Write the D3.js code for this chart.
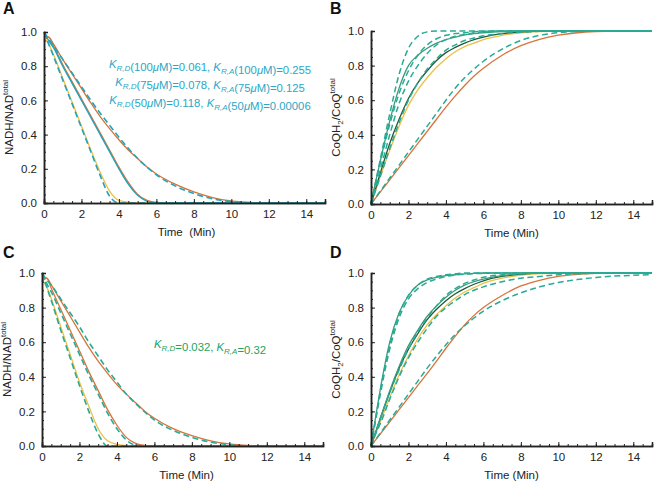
<!DOCTYPE html>
<html><head><meta charset="utf-8">
<script src="https://cdn.jsdelivr.net/npm/d3@7"></script>
<style>body{margin:0;background:#fff}svg{display:block;font-family:"Liberation Sans",Arial,sans-serif}</style>
</head><body><svg id="c" width="655" height="485"></svg>
<script>
// time grid (min)
const tGrid = [0,0.25,0.5,1,1.5,2,2.5,3,3.5,4,4.5,5,5.5,6,7,8,9,10,11,12,13,14,15];
const xTicks = [0,2,4,6,8,10,12,14];
const yTicks = [0,0.2,0.4,0.6,0.8,1.0];

// Panel A (NADH/NAD total)
const A_fastSolid = [0.97,0.93,0.87,0.73,0.59,0.45,0.31,0.18,0.07,0.015,0.004,0.001,0,0,0,0,0,0,0,0,0,0,0];
const A_fastDash  = [1.0,0.93,0.86,0.72,0.58,0.44,0.30,0.16,0.04,0,0,0,0,0,0,0,0,0,0,0,0,0,0];
const A_midSolid  = [0.95,0.97,0.92,0.81,0.71,0.61,0.51,0.41,0.31,0.21,0.12,0.05,0.015,0.003,0,0,0,0,0,0,0,0,0];
const A_midTeal   = [1.0,0.95,0.91,0.80,0.70,0.60,0.50,0.40,0.30,0.20,0.11,0.045,0.01,0,0,0,0,0,0,0,0,0,0];
const A_slowSolid = [0.95,0.97,0.93,0.84,0.755,0.67,0.585,0.505,0.435,0.37,0.31,0.26,0.21,0.17,0.11,0.065,0.032,0.012,0.003,0,0,0,0];
const A_slowDash  = [1.0,0.96,0.92,0.84,0.76,0.68,0.60,0.525,0.455,0.385,0.32,0.26,0.21,0.165,0.10,0.055,0.025,0.008,0.001,0,0,0,0];

// Panel C
const C_fastSolid = [0.96,0.92,0.85,0.69,0.53,0.37,0.23,0.10,0.03,0.01,0.003,0,0,0,0,0,0,0,0,0,0,0,0];
const C_fastDash  = [1.0,0.92,0.84,0.67,0.51,0.35,0.20,0.07,0,0,0,0,0,0,0,0,0,0,0,0,0,0,0];
const C_midSolid  = [0.95,0.97,0.91,0.79,0.67,0.55,0.43,0.32,0.21,0.12,0.05,0.015,0.003,0,0,0,0,0,0,0,0,0,0];
const C_midDash   = [1.0,0.94,0.89,0.77,0.65,0.53,0.41,0.30,0.19,0.10,0.035,0.005,0,0,0,0,0,0,0,0,0,0,0];
const C_slowSolid = [0.95,0.97,0.93,0.84,0.75,0.66,0.57,0.49,0.42,0.355,0.30,0.25,0.20,0.16,0.10,0.06,0.03,0.012,0.003,0,0,0,0];
const C_slowDash  = [1.0,0.96,0.93,0.85,0.77,0.69,0.60,0.52,0.44,0.37,0.30,0.245,0.195,0.15,0.09,0.05,0.022,0.007,0.001,0,0,0,0];

// Panel B (CoQH2/CoQ total)
const B_fastDash  = [0,0.13,0.26,0.52,0.75,0.90,0.97,0.995,1,1,1,1,1,1,1,1,1,1,1,1,1,1,1];
const B_tealSolid = [0,0.13,0.25,0.48,0.67,0.80,0.86,0.90,0.93,0.95,0.965,0.977,0.985,0.99,0.997,1,1,1,1,1,1,1,1];
const B_dash2     = [0,0.12,0.24,0.46,0.64,0.77,0.86,0.92,0.955,0.975,0.985,0.99,0.995,0.998,1,1,1,1,1,1,1,1,1];
const B_dash3     = [0,0.10,0.20,0.40,0.58,0.71,0.80,0.87,0.92,0.95,0.97,0.98,0.99,0.995,1,1,1,1,1,1,1,1,1];
const B_darkGreen = [0,0.09,0.18,0.35,0.49,0.61,0.70,0.77,0.83,0.875,0.905,0.93,0.95,0.965,0.985,0.995,1,1,1,1,1,1,1];
const B_yellow    = [0,0.08,0.16,0.31,0.45,0.57,0.66,0.73,0.79,0.84,0.88,0.91,0.93,0.95,0.975,0.99,0.997,1,1,1,1,1,1];
const B_dash4     = [0,0.08,0.16,0.32,0.47,0.60,0.70,0.78,0.84,0.89,0.92,0.945,0.96,0.972,0.985,0.993,0.998,1,1,1,1,1,1];
const B_orange    = [0,0.035,0.07,0.14,0.21,0.28,0.35,0.42,0.49,0.56,0.625,0.685,0.74,0.785,0.86,0.915,0.952,0.976,0.99,0.997,1,1,1];
const B_dash5     = [0,0.037,0.075,0.15,0.225,0.30,0.375,0.45,0.525,0.60,0.67,0.73,0.78,0.825,0.895,0.945,0.975,0.99,0.997,1,1,1,1];

// Panel D
const D_fastSolid = [0,0.17,0.33,0.60,0.77,0.87,0.93,0.96,0.975,0.985,0.99,0.995,0.998,1,1,1,1,1,1,1,1,1,1];
const D_fastDash1 = [0,0.16,0.32,0.58,0.76,0.87,0.93,0.965,0.98,0.99,0.995,1,1,1,1,1,1,1,1,1,1,1,1];
const D_fastDash2 = [0,0.15,0.30,0.56,0.74,0.85,0.91,0.945,0.965,0.98,0.988,0.993,0.996,0.998,1,1,1,1,1,1,1,1,1];
const D_midTeal   = [0,0.08,0.16,0.32,0.46,0.58,0.67,0.75,0.81,0.86,0.90,0.93,0.95,0.965,0.985,0.995,1,1,1,1,1,1,1];
const D_darkGreen = [0,0.08,0.16,0.31,0.45,0.56,0.65,0.73,0.79,0.84,0.88,0.91,0.935,0.955,0.98,0.993,1,1,1,1,1,1,1];
const D_yellow    = [0,0.07,0.14,0.28,0.41,0.52,0.62,0.70,0.76,0.81,0.855,0.89,0.915,0.94,0.97,0.988,0.996,1,1,1,1,1,1];
const D_midDash   = [0,0.08,0.16,0.31,0.44,0.56,0.66,0.74,0.81,0.87,0.91,0.94,0.96,0.975,0.99,0.997,1,1,1,1,1,1,1];
const D_midDash2  = [0,0.07,0.13,0.27,0.40,0.51,0.60,0.68,0.75,0.80,0.84,0.875,0.90,0.92,0.95,0.97,0.98,0.99,0.995,1,1,1,1];
const D_orange    = [0,0.035,0.07,0.14,0.21,0.28,0.35,0.42,0.49,0.565,0.635,0.70,0.755,0.80,0.87,0.925,0.958,0.98,0.992,0.998,1,1,1];
const D_slowDash  = [0,0.037,0.075,0.15,0.225,0.30,0.375,0.45,0.52,0.585,0.645,0.695,0.74,0.78,0.84,0.885,0.92,0.945,0.962,0.974,0.982,0.987,0.99];

const ORANGE="#D6743C", YELLOW="#EDBF48", CYAN="#21A4BA", TEALG="#2AAA95", GREEN="#3A9C7A", DKGREEN="#1F5A3A";

const svg = d3.select("#c");

function panel(o){
  const x = d3.scaleLinear().domain([0,15]).range([o.l,o.r]);
  const y = d3.scaleLinear().domain([0,1]).range([o.b,o.t]);
  const g = svg.append("g");
  const line = d3.line().x((d,i)=>x(tGrid[i])).y(d=>y(d)).curve(d3.curveMonotoneX);
  o.series.forEach(s=>{
    g.append("path").attr("d",line(s.v)).attr("fill","none")
      .attr("stroke",s.c).attr("stroke-width",s.w||1.3)
      .attr("stroke-dasharray",s.d?"6,3.5":null);
  });
  // axes with inward ticks
  const xa = d3.axisBottom(x).tickValues(xTicks).tickSize(-4).tickPadding(7).tickFormat(d3.format("d"));
  const xm = d3.axisBottom(x).tickValues(d3.range(0,15.01,0.5)).tickSize(-2).tickFormat("");
  const ya = d3.axisLeft(y).tickValues(yTicks).tickSize(-4).tickPadding(7).tickFormat(d3.format(".1f"));
  const ym = d3.axisLeft(y).tickValues(d3.range(0,1.001,0.05)).tickSize(-2).tickFormat("");
  [ [xm,"translate(0,"+o.b+")"],[xa,"translate(0,"+o.b+")"],[ym,"translate("+o.l+",0)"],[ya,"translate("+o.l+",0)"] ].forEach(([ax,tr])=>{
    const a = g.append("g").attr("transform",tr).call(ax);
    a.select(".domain").attr("stroke","#222").attr("stroke-width",1.5);
    a.selectAll(".tick line").attr("stroke","#222").attr("stroke-width",1);
    a.selectAll("text").attr("font-size",11.5).attr("fill","#222").attr("font-family","Liberation Sans, Arial, sans-serif");
  });
  // panel letter
  svg.append("text").attr("x",o.lx).attr("y",o.ly).attr("font-weight","bold").attr("font-size",16).attr("fill","#111").text(o.letter);
  // x label
  svg.append("text").attr("x",(o.l+o.r)/2 + o.xlOff).attr("y",o.b+33).attr("text-anchor","middle")
    .attr("font-size",11.5).attr("fill","#222").attr("xml:space","preserve").text(o.xlabel);
  // y label
  const yl = svg.append("text").attr("transform","translate("+(o.l-31)+","+((o.t+o.b)/2)+") rotate(-90)")
    .attr("text-anchor","middle").attr("font-size",11.5).attr("fill","#222");
  o.ylabel(yl);
}

function nadLabel(t){ t.append("tspan").text("NADH/NAD"); t.append("tspan").attr("dy",-5).attr("font-size",8).text("total"); }
function coqLabel(t){ t.append("tspan").text("CoQH"); t.append("tspan").attr("dy",3).attr("font-size",8).text("2");
  t.append("tspan").attr("dy",-3).text("/CoQ"); t.append("tspan").attr("dy",-5).attr("font-size",8).text("total"); }

panel({l:44,r:325,t:32,b:203,letter:"A",lx:3,ly:14,xlabel:"Time  (Min)",xlOff:2,ylabel:nadLabel,
  series:[{v:A_slowSolid,c:ORANGE},{v:A_midSolid,c:ORANGE},{v:A_fastSolid,c:YELLOW},
          {v:A_midTeal,c:CYAN,w:1.4},{v:A_slowDash,c:CYAN,d:1,w:1.6},{v:A_fastDash,c:CYAN,d:1,w:1.6}]});
panel({l:371,r:652,t:31,b:204,letter:"B",lx:330,ly:14,xlabel:"Time (Min)",xlOff:0,ylabel:coqLabel,
  series:[{v:B_orange,c:ORANGE},{v:B_yellow,c:YELLOW},{v:B_darkGreen,c:DKGREEN},{v:B_tealSolid,c:GREEN},
          {v:B_fastDash,c:TEALG,d:1,w:1.5},{v:B_dash2,c:TEALG,d:1,w:1.5},{v:B_dash3,c:TEALG,d:1,w:1.5},
          {v:B_dash4,c:TEALG,d:1,w:1.5},{v:B_dash5,c:TEALG,d:1,w:1.5}]});
panel({l:42,r:323,t:273,b:446,letter:"C",lx:3,ly:258,xlabel:"Time (Min)",xlOff:4,ylabel:nadLabel,
  series:[{v:C_slowSolid,c:ORANGE},{v:C_midSolid,c:ORANGE},{v:C_fastSolid,c:YELLOW},
          {v:C_slowDash,c:TEALG,d:1,w:1.6},{v:C_midDash,c:TEALG,d:1,w:1.6},{v:C_fastDash,c:TEALG,d:1,w:1.6}]});
panel({l:371,r:652,t:273,b:446,letter:"D",lx:330,ly:258,xlabel:"Time (Min)",xlOff:0,ylabel:coqLabel,
  series:[{v:D_orange,c:ORANGE},{v:D_yellow,c:YELLOW},{v:D_darkGreen,c:DKGREEN},{v:D_midTeal,c:GREEN},{v:D_fastSolid,c:GREEN},
          {v:D_fastDash1,c:TEALG,d:1,w:1.5},{v:D_fastDash2,c:TEALG,d:1,w:1.5},{v:D_midDash,c:TEALG,d:1,w:1.5},
          {v:D_midDash2,c:TEALG,d:1,w:1.5},{v:D_slowDash,c:TEALG,d:1,w:1.5}]});

// annotations
function kText(x,y,parts,color){
  const t = svg.append("text").attr("x",x).attr("y",y).attr("text-anchor","middle").attr("font-size",11.3).attr("fill",color);
  parts.forEach(p=>{
    if(p.k){ t.append("tspan").attr("font-style","italic").text("K");
             t.append("tspan").attr("font-style","italic").attr("font-size",8).attr("dy",3).text(p.k);
             t.append("tspan").attr("dy",-3).text(""); }
    else if(p.mu){ t.append("tspan").attr("font-style","italic").text("\u03bc"); }
    else t.append("tspan").text(p.s);
  });
}
const TXTA="#2AA7C6", TXTC="#22A35E";
kText(210,68,[{k:"R,D"},{s:"(100"},{mu:1},{s:"M)=0.061, "},{k:"R,A"},{s:"(100"},{mu:1},{s:"M)=0.255"}],TXTA);
kText(210,86,[{k:"R,D"},{s:"(75"},{mu:1},{s:"M)=0.078, "},{k:"R,A"},{s:"(75"},{mu:1},{s:"M)=0.125"}],TXTA);
kText(210,104,[{k:"R,D"},{s:"(50"},{mu:1},{s:"M)=0.118, "},{k:"R,A"},{s:"(50"},{mu:1},{s:"M)=0.00006"}],TXTA);
kText(210,348,[{k:"R,D"},{s:"=0.032, "},{k:"R,A"},{s:"=0.32"}],TXTC);
</script></body></html>
